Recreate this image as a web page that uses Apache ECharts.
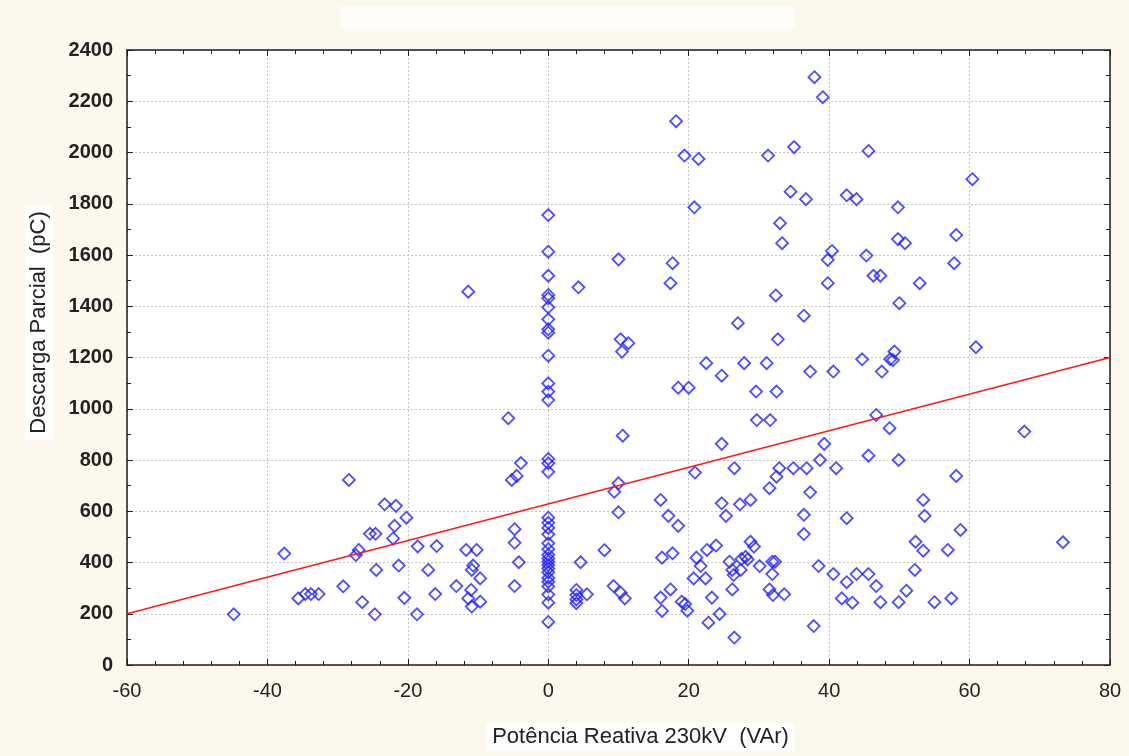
<!DOCTYPE html>
<html>
<head>
<meta charset="utf-8">
<script src="https://cdn.jsdelivr.net/npm/echarts@6/dist/echarts.min.js"></script>
<style>
html,body{margin:0;padding:0;background:#fcf8ee;}
#c{width:1129px;height:756px;}
</style>
</head>
<body>
<div id="c"></div>
<script>
// ---- Data (Potência Reativa x Descarga Parcial) ----
const xAxisTitle = 'Potência Reativa 230kV  (VAr)';
const yAxisTitle = 'Descarga Parcial  (pC)';
const xTicks = { min: -60, max: 80, step: 20 };
const yTicks = { min: 0, max: 2400, step: 200 };

// points with negative reactive power [x, y]
const pointsNegative = [
  [-44.8,198],[-37.6,435],[-35.6,260],[-34.6,277],[-33.8,277],[-32.7,277],[-29.2,307],[-28.4,722],
  [-27.0,449],[-27.4,429],[-26.5,245],[-25.4,512],[-24.6,512],[-24.5,371],[-24.7,198],[-23.3,627],
  [-21.7,621],[-21.9,543],[-22.1,494],[-21.3,388],[-20.2,575],[-20.5,262],[-18.7,198],[-18.6,463],
  [-17.1,371],[-16.1,277],[-15.9,464],[-13.1,308],[-11.7,449],[-11.4,1457],[-10.9,371],[-10.7,388],
  [-11.0,293],[-11.4,260],[-10.9,228],[-10.2,449],[-9.7,338],[-9.7,247],[-5.7,963],[-5.2,722],
  [-4.5,738],[-3.9,788],[-4.8,530],[-4.8,477],[-4.2,401],[-4.8,308]
];
// partial discharge values measured at zero reactive power
const zeroPowerPD = [
  168,243,275,306,325,340,362,377,390,403,416,430,452,475,510,535,555,575,
  754,787,804,1034,1067,1099,1207,1297,1310,1349,1396,1431,1444,1519,1613,1756
];
// points with 0 < x < 20
const pointsLow = [
  [4.3,1474],[4.6,401],[4.0,293],[4.0,273],[4.0,256],[4.0,241],[5.5,276],[8.0,448],[9.3,308],
  [10.3,282],[10.9,260],[9.4,676],[10.0,709],[10.0,596],[10.6,895],[10.0,1583],[10.3,1271],
  [11.4,1256],[10.5,1223],[16.0,644],[17.1,582],[18.5,543],[16.2,419],[17.7,436],[16.0,263],
  [16.2,211],[17.4,295],[19.0,247],[19.5,238],[19.8,212],[17.7,1568],[17.4,1490],[18.2,2122],
  [19.4,1988],[18.5,1082]
];
// points with 20 <= x < 30
const pointsMid = [
  [21.4,1975],[20.8,1786],[20.0,1082],[20.9,751],[21.1,419],[21.7,386],[20.7,338],[22.4,338],
  [22.6,449],[23.9,466],[22.5,1178],[24.7,1129],[27.0,1334],[27.9,1178],[29.6,1067],[29.7,956],
  [24.7,863],[26.5,768],[24.7,631],[25.3,582],[27.3,627],[28.8,644],[28.8,481],[29.3,462],
  [25.8,403],[27.5,414],[28.1,422],[28.4,412],[26.2,371],[27.4,371],[26.4,351],[26.2,295],
  [23.3,263],[24.4,199],[22.8,165],[26.5,107]
];
// points with 30 <= x < 40
const pointsUpper = [
  [30.1,386],[31.3,1988],[35.0,2021],[34.5,1847],[36.7,1818],[33.0,1724],[33.3,1646],[32.4,1442],
  [36.4,1363],[32.7,1271],[31.1,1178],[32.5,1067],[37.3,1145],[31.6,956],[32.9,768],[34.9,768],
  [36.8,768],[32.5,735],[31.5,690],[37.3,674],[38.7,800],[39.3,863],[36.4,586],[36.4,511],
  [31.9,403],[32.3,403],[31.9,355],[31.5,295],[32.0,273],[33.6,276],[38.5,386],[37.8,152],
  [37.9,2294],[39.1,2216],[39.8,1581],[39.8,1490]
];
// points with x >= 40
const pointsHigh = [
  [40.4,1616],[40.6,1145],[41.0,768],[42.5,1833],[43.9,1818],[45.6,2006],[45.3,1598],[46.3,1519],
  [47.3,1519],[44.7,1193],[47.5,1145],[49.3,1223],[48.7,1193],[49.1,1190],[49.8,1786],[49.8,1662],
  [50.0,1412],[46.7,976],[48.6,924],[45.6,817],[49.9,800],[42.5,573],[40.6,355],[42.5,323],
  [43.9,355],[45.6,355],[46.7,308],[41.8,260],[43.3,243],[47.3,245],[49.9,245],[50.8,1646],
  [52.9,1490],[51.0,290],[52.2,371],[52.3,481],[53.4,446],[53.4,644],[53.6,582],[55.0,245],
  [56.9,449],[57.4,260],[58.1,738],[58.7,527],[58.1,1678],[57.8,1568],[60.4,1896],[60.9,1240],
  [67.8,911],[73.3,479]
];
// fitted linear regression line end points
const trendX = [-60, 80];
const trendY = [200, 1200];

const scatterData = [].concat(
  pointsNegative,
  zeroPowerPD.map(v => [0, v]),
  pointsLow, pointsMid, pointsUpper, pointsHigh
);
const trendData = trendX.map((x, i) => [x, trendY[i]]);

const axisColor = '#1e1e1e';
const fontFam = 'Liberation Sans, Arial, sans-serif';
const gridLine = { show: true, lineStyle: { color: '#c4c4c4', type: [2, 2], width: 1 } };
const plain = v => String(v);

const chart = echarts.init(document.getElementById('c'), null, { renderer: 'canvas' });
chart.setOption({
  animation: false,
  backgroundColor: '#fcf8ee',
  graphic: [
    { type: 'rect', left: 340, top: 6, shape: { width: 455, height: 23 }, style: { fill: '#fefdfa' }, silent: true }
  ],
  grid: { left: 127, right: 19, top: 50, bottom: 91, show: true, backgroundColor: '#ffffff', borderWidth: 0 },
  xAxis: [{
    type: 'value', min: xTicks.min, max: xTicks.max, interval: xTicks.step,
    name: '{s|}{t|' + xAxisTitle + '}', nameLocation: 'middle', nameGap: 58,
    nameTextStyle: { rich: {
      s: { width: 44 },
      t: { fontFamily: fontFam, fontSize: 22, color: '#222', backgroundColor: '#ffffff', padding: [3, 6, 3, 6] }
    } },
    axisLine: { show: true, onZero: false, lineStyle: { color: axisColor, width: 1.5 } },
    axisTick: { show: true, inside: true, length: 6, lineStyle: { color: axisColor } },
    minorTick: { show: true, splitNumber: 5, length: 4, lineStyle: { color: axisColor } },
    splitLine: gridLine,
    axisLabel: { fontFamily: fontFam, fontSize: 20, color: '#222', margin: 16, formatter: plain }
  }, {
    type: 'value', position: 'top', min: xTicks.min, max: xTicks.max, interval: xTicks.step,
    axisLine: { show: true, onZero: false, lineStyle: { color: axisColor, width: 1.5 } },
    axisTick: { show: true, inside: true, length: 6, lineStyle: { color: axisColor } },
    minorTick: { show: true, splitNumber: 5, length: 4, lineStyle: { color: axisColor } },
    splitLine: { show: false }, axisLabel: { show: false }
  }],
  yAxis: [{
    type: 'value', min: yTicks.min, max: yTicks.max, interval: yTicks.step,
    name: '{s|}{t|' + yAxisTitle + '}', nameLocation: 'middle', nameGap: 74, nameRotate: 90,
    nameTextStyle: { rich: {
      s: { width: 70 },
      t: { fontFamily: fontFam, fontSize: 22, color: '#222', backgroundColor: '#ffffff', padding: [3, 6, 3, 6] }
    } },
    axisLine: { show: true, onZero: false, lineStyle: { color: axisColor, width: 1.5 } },
    axisTick: { show: true, inside: true, length: 6, lineStyle: { color: axisColor } },
    minorTick: { show: true, splitNumber: 2, length: 4, lineStyle: { color: axisColor } },
    splitLine: gridLine,
    axisLabel: { fontFamily: fontFam, fontSize: 20, fontWeight: 'bold', color: '#222', margin: 14, formatter: plain }
  }, {
    type: 'value', position: 'right', min: yTicks.min, max: yTicks.max, interval: yTicks.step,
    axisLine: { show: true, onZero: false, lineStyle: { color: axisColor, width: 1.5 } },
    axisTick: { show: true, inside: true, length: 6, lineStyle: { color: axisColor } },
    minorTick: { show: true, splitNumber: 2, length: 4, lineStyle: { color: axisColor } },
    splitLine: { show: false }, axisLabel: { show: false }
  }],
  series: [{
    type: 'scatter', xAxisIndex: 0, yAxisIndex: 0,
    symbol: 'diamond', symbolSize: [12, 12],
    itemStyle: { color: 'rgba(0,0,0,0)', borderColor: '#2020ff', borderWidth: 1.8 },
    data: scatterData, z: 3
  }, {
    type: 'line', xAxisIndex: 0, yAxisIndex: 0,
    data: trendData, symbol: 'none',
    lineStyle: { color: '#ff1a1a', width: 1.5 }, z: 4
  }]
});
</script>
</body>
</html>
